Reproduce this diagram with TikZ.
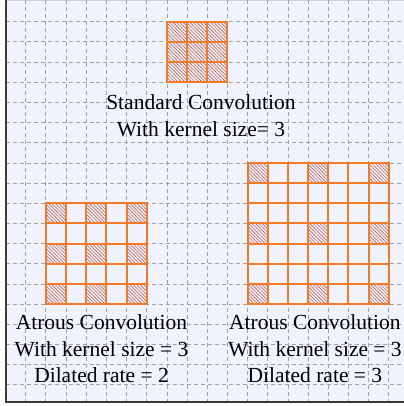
\documentclass[tikz,border=0pt]{standalone}
\usepackage{fontspec}
\setmainfont{Liberation Serif}
\usetikzlibrary{patterns.meta}
\definecolor{GRID-BG}{RGB}{240,243,253}
\definecolor{GRID-LINE}{RGB}{160,160,165}
\definecolor{CELL-ORANGE}{RGB}{243,122,38}
\definecolor{HATCH-RED}{RGB}{185,95,80}
\definecolor{FRAME-GRAY}{RGB}{60,60,60}

\tikzset{
  cellbox/.style={draw=CELL-ORANGE, line width=2pt},
  hatched/.style={pattern={Lines[angle=-45,distance=2.4pt,line width=0.6pt]}, pattern color=HATCH-RED},
  caption/.style={align=center, anchor=base, font=\fontsize{21.5}{26.5}\selectfont},
  gridline/.style={GRID-LINE, line width=0.7pt, dash pattern=on 4pt off 3pt},
}

\begin{document}
\begin{tikzpicture}[x=20.17pt,y=-20.17pt]
  \useasboundingbox (-0.2727,-0.0744) rectangle (19.757,20.055);

  % Background and dashed grid
  \fill[GRID-BG] (0,-0.05) rectangle (19.757,19.87);
  \draw[GRID-LINE!50, line width=0.5pt] (0,-0.05) -- (19.757,-0.05);
  \foreach \i in {1,...,19}
    \draw[gridline] (\i,-0.05) -- (\i,19.87);
  \foreach \j in {1,...,19}
    \draw[gridline] (0,\j) -- (19.757,\j);

  % Standard kernel (3x3, all taps)
  \foreach \c in {0,1,2}
    \foreach \r in {0,1,2}
      \fill[hatched] (8+\c,1+\r) rectangle +(1,1);
  \foreach \c in {0,1,2}
    \foreach \r in {0,1,2}
      \draw[cellbox] (8+\c,1+\r) rectangle +(1,1);
  \node[caption] (std) at (9.69,6.67) {Standard Convolution\\With kernel size= 3};

  % Atrous kernel, rate 2 (5x5)
  \foreach \c in {0,2,4}
    \foreach \r in {0,2,4}
      \fill[hatched] (2+\c,10+\r) rectangle +(1,1);
  \foreach \c in {0,...,4}
    \foreach \r in {0,...,4}
      \draw[cellbox] (2+\c,10+\r) rectangle +(1,1);
  \node[caption] (rate2) at (4.76,18.90) {Atrous Convolution\\With kernel size = 3\\Dilated rate = 2};

  % Atrous kernel, rate 3 (7x7)
  \foreach \c in {0,3,6}
    \foreach \r in {0,3,6}
      \fill[hatched] (12+\c,8+\r) rectangle +(1,1);
  \foreach \c in {0,...,6}
    \foreach \r in {0,...,6}
      \draw[cellbox] (12+\c,8+\r) rectangle +(1,1);
  \node[caption] (rate3) at (15.34,18.90) {Atrous Convolution\\With kernel size = 3\\Dilated rate = 3};

  % Frame (left and bottom edges)
  \draw[FRAME-GRAY, line width=2pt] (0.02,-0.05) -- (0.02,19.87) -- (19.757,19.87);
\end{tikzpicture}
\end{document}
